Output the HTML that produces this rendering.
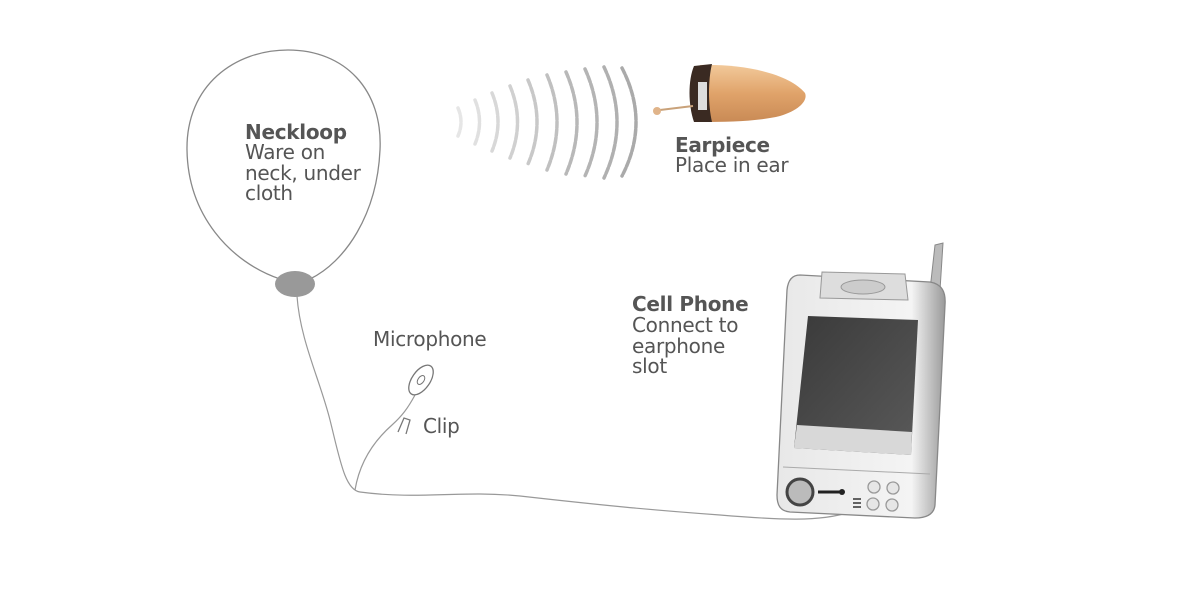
<!DOCTYPE html>
<html><head><style>
html,body{margin:0;padding:0;background:#fff;}
svg{display:block;}
text{font-family:"DejaVu Sans","Liberation Sans",sans-serif;fill:#555;font-size:20px;letter-spacing:-0.3px;}
</style></head><body>
<svg width="1200" height="616" viewBox="0 0 1200 616" xmlns="http://www.w3.org/2000/svg">
<defs>
<linearGradient id="ear" x1="0" y1="0" x2="0" y2="1">
<stop offset="0" stop-color="#f2c99a"/><stop offset="0.5" stop-color="#e0a36a"/><stop offset="1" stop-color="#c98a55"/></linearGradient>
<linearGradient id="scr" x1="0" y1="0" x2="1" y2="1">
<stop offset="0" stop-color="#3a3a3a"/><stop offset="1" stop-color="#5a5a5a"/></linearGradient>
<linearGradient id="body" x1="0" y1="0" x2="1" y2="0">
<stop offset="0" stop-color="#e8e8e8"/><stop offset="0.8" stop-color="#f4f4f4"/><stop offset="1" stop-color="#9a9a9a"/></linearGradient>
</defs>
<path d="M280,279 C230,262 188,215 187,150 C186,85 235,50 288,50 C345,50 383,90 380,150 C377,215 345,262 310,279" fill="none" stroke="#888" stroke-width="1.3"/>
<ellipse cx="295" cy="284" rx="20" ry="13" fill="#999"/>
<path d="M297,296 C300,340 320,380 330,420 C340,460 345,490 360,492 C420,500 460,490 520,496 C600,505 650,510 720,515 C780,520 820,522 850,512" fill="none" stroke="#999" stroke-width="1.2"/>
<path d="M355,490 C360,460 375,440 392,425 C402,416 408,408 415,395" fill="none" stroke="#999" stroke-width="1.2"/>
<ellipse cx="421" cy="380" rx="9" ry="17" transform="rotate(35 421 380)" fill="#fff" stroke="#777" stroke-width="1.3"/>
<ellipse cx="421" cy="380" rx="3" ry="5" transform="rotate(35 421 380)" fill="none" stroke="#777"/>
<path d="M398,432 L404,418 L410,420 L406,434" fill="none" stroke="#777" stroke-width="1.3"/>
<g fill="none" stroke-width="3.5" stroke-linecap="round" stroke-dasharray="6 2">
<path d="M458,108 Q464,122 458,136" stroke="#e6e6e6"/>
<path d="M475,100 Q484,122 475,144" stroke="#e0e0e0"/>
<path d="M492,93 Q504,122 492,151" stroke="#d8d8d8"/>
<path d="M510,86 Q525,122 510,158" stroke="#d0d0d0"/>
<path d="M528,80 Q546,122 528,164" stroke="#c8c8c8"/>
<path d="M547,75 Q567,122 547,170" stroke="#c0c0c0"/>
<path d="M566,72 Q588,122 566,174" stroke="#b8b8b8"/>
<path d="M585,69 Q609,122 585,176" stroke="#b4b4b4"/>
<path d="M604,67 Q630,122 604,178" stroke="#b0b0b0"/>
<path d="M622,68 Q650,122 622,176" stroke="#aaa"/>
</g>
<path d="M700,65 C750,64 790,75 805,93 C808,100 800,110 780,116 C760,121 730,122 700,122 Z" fill="url(#ear)"/>
<path d="M694,66 L712,64 C708,80 708,105 712,122 L694,122 C688,105 688,80 694,66 Z" fill="#3a2a22"/>
<rect x="698" y="82" width="9" height="28" fill="#ddd"/>
<line x1="660" y1="110" x2="693" y2="106" stroke="#c9a27a" stroke-width="2"/>
<circle cx="657" cy="111" r="4" fill="#e0b48a"/>
<path d="M935,245 L943,243 L940,290 L930,290 Z" fill="#bbb" stroke="#888"/>
<path d="M800,275 L930,282 C942,284 946,292 945,305 L935,505 C934,515 925,518 915,518 L790,512 C780,511 777,505 777,495 L787,290 C788,280 792,275 800,275 Z" fill="url(#body)" stroke="#888" stroke-width="1.3"/>
<path d="M822,272 L905,274 L908,300 L820,298 Z" fill="#ddd" stroke="#999"/>
<ellipse cx="863" cy="287" rx="22" ry="7" fill="#ccc" stroke="#999"/>
<path d="M808,316 L918,320 L911,455 L794,448 Z" fill="url(#scr)"/>
<path d="M797,425 L912,432 L911,455 L794,448 Z" fill="#d8d8d8"/>
<line x1="783" y1="467" x2="930" y2="474" stroke="#aaa"/>
<circle cx="800" cy="492" r="13" fill="#bbb" stroke="#444" stroke-width="3"/>
<line x1="818" y1="492" x2="840" y2="492" stroke="#222" stroke-width="3"/>
<circle cx="842" cy="492" r="3" fill="#222"/>
<g fill="#e6e6e6" stroke="#999" stroke-width="1.3">
<circle cx="874" cy="487" r="6"/><circle cx="893" cy="488" r="6"/>
<circle cx="873" cy="504" r="6"/><circle cx="892" cy="505" r="6"/>
</g>
<g stroke="#333" stroke-width="1.5"><line x1="853" y1="499" x2="861" y2="499"/><line x1="853" y1="503" x2="861" y2="503"/><line x1="853" y1="507" x2="861" y2="507"/></g>
<text x="245" y="139" font-weight="bold">Neckloop</text>
<text x="245" y="159">Ware on</text>
<text x="245" y="180">neck, under</text>
<text x="245" y="200">cloth</text>
<text x="675" y="152" font-weight="bold">Earpiece</text>
<text x="675" y="172">Place in ear</text>
<text x="632" y="311" font-weight="bold">Cell Phone</text>
<text x="632" y="332">Connect to</text>
<text x="632" y="353">earphone</text>
<text x="632" y="373">slot</text>
<text x="373" y="346">Microphone</text>
<text x="423" y="433">Clip</text>
</svg>
</body></html>
